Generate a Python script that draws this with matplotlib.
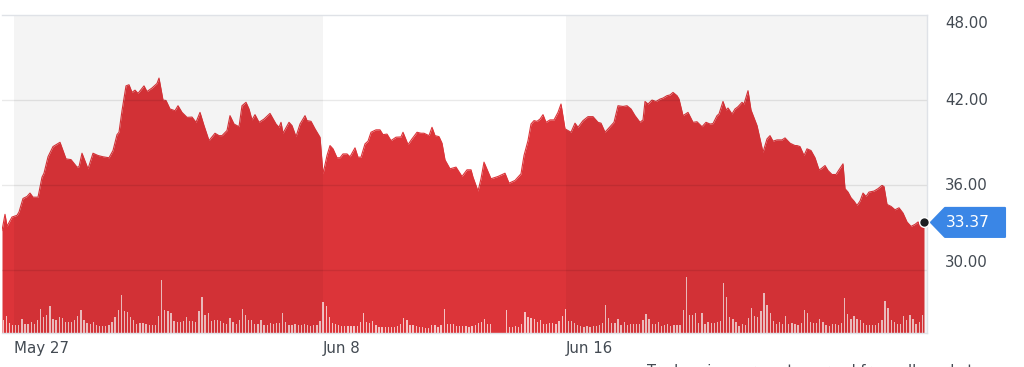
import numpy as np
import matplotlib
matplotlib.use("Agg")
import matplotlib.pyplot as plt
import matplotlib.transforms as mtransforms
from matplotlib.patches import Polygon

# ---------------- data ----------------
# intraday sample time (session minutes index) and price
t_price = [0, 3, 5, 10, 15, 17, 21, 25, 28, 31, 36, 40, 42, 46, 51, 58, 64, 69, 75, 77,
           80, 86, 91, 96, 101, 107, 111, 115, 117, 120, 124, 127, 130, 133, 136, 142, 145, 150, 155, 157,
           161, 164, 168, 173, 176, 180, 185, 190, 194, 198, 202, 207, 213, 217, 220, 225, 228, 232, 237, 240,
           244, 247, 250, 253, 257, 262, 268, 274, 277, 279, 281, 287, 290, 294, 298, 303, 305, 309, 313, 318,
           321, 325, 328, 331, 335, 338, 341, 345, 348, 353, 356, 359, 363, 366, 369, 374, 378, 381, 385, 389,
           394, 399, 401, 406, 410, 415, 419, 422, 427, 430, 433, 437, 440, 443, 448, 454, 460, 465, 469, 471,
           476, 479, 482, 489, 496, 503, 507, 513, 519, 522, 526, 529, 532, 535, 538, 541, 544, 548, 552, 556,
           559, 563, 569, 573, 576, 581, 586, 591, 596, 599, 603, 608, 612, 616, 621, 625, 629, 633, 638, 641,
           643, 646, 650, 654, 658, 661, 665, 668, 671, 675, 677, 681, 686, 691, 695, 700, 704, 708, 711, 715,
           717, 721, 724, 726, 730, 733, 736, 740, 742, 746, 749, 755, 758, 761, 765, 768, 771, 775, 780, 783,
           788, 793, 795, 798, 802, 805, 809, 813, 817, 819, 823, 826, 830, 834, 837, 841, 843, 846, 849, 852,
           855, 858, 861, 864, 867, 872, 876, 880, 882, 885, 889, 893, 897, 901, 905, 909, 913, 916, 918, 922]
price = [32.80, 33.94, 33.10, 33.75, 33.87, 34.10, 35.06, 35.20, 35.44, 35.15, 35.15, 36.56, 36.84, 38.00, 38.72, 39.02, 37.85, 37.80, 37.27, 37.30,
         38.25, 37.15, 38.25, 38.09, 38.00, 37.93, 38.44, 39.56, 39.73, 41.25, 43.00, 43.08, 42.54, 42.70, 42.47, 43.00, 42.60, 42.85, 43.17, 43.55,
         42.00, 41.97, 41.37, 41.25, 41.60, 41.13, 40.78, 40.80, 40.43, 41.13, 40.20, 39.14, 39.66, 39.49, 39.49, 39.85, 40.90, 40.31, 40.12, 41.60,
         41.84, 41.37, 40.60, 40.97, 40.43, 40.66, 41.06, 40.31, 40.08, 40.43, 39.66, 40.43, 40.20, 39.42, 40.31, 40.90, 40.55, 40.50, 39.97, 39.38,
         36.80, 38.09, 38.79, 38.56, 37.93, 37.93, 38.20, 38.20, 38.00, 38.63, 37.97, 37.97, 38.91, 39.10, 39.73, 39.90, 39.90, 39.56, 39.60, 39.14,
         39.38, 39.40, 39.73, 38.86, 39.26, 39.73, 39.66, 39.66, 39.49, 40.08, 39.49, 39.42, 38.96, 37.78, 37.15, 37.27, 36.61, 37.08, 37.08, 36.56,
         35.58, 36.45, 37.62, 36.45, 36.61, 36.84, 36.14, 36.33, 36.80, 38.09, 39.14, 40.31, 40.55, 40.50, 40.66, 40.97, 40.43, 40.60, 40.60, 41.13,
         41.72, 39.97, 39.73, 40.37, 40.08, 40.55, 40.83, 40.83, 40.43, 40.37, 39.73, 40.12, 40.43, 41.60, 41.55, 41.60, 41.37, 40.90, 40.43, 40.60,
         41.90, 41.72, 42.00, 41.90, 42.07, 42.14, 42.31, 42.36, 42.54, 42.31, 42.07, 40.90, 41.13, 40.43, 40.47, 40.12, 40.43, 40.31, 40.34, 40.90,
         41.02, 41.90, 41.30, 41.44, 41.02, 41.37, 41.53, 41.84, 41.72, 42.66, 41.30, 40.20, 39.26, 38.32, 39.26, 39.49, 39.10, 39.19, 39.19, 39.33,
         38.96, 38.79, 38.79, 38.72, 38.09, 38.56, 38.44, 37.93, 37.08, 37.15, 37.38, 37.03, 36.75, 36.75, 37.08, 37.50, 35.75, 35.51, 35.11, 34.87,
         34.57, 34.87, 35.44, 35.20, 35.51, 35.58, 35.75, 35.98, 35.90, 34.64, 34.50, 34.26, 34.40, 34.03, 33.40, 33.09, 33.23, 33.40, 33.28, 33.37]

# volume per interval (thousand shares), evenly spaced bars
volume_k = [127, 173, 100, 77, 83, 83, 140, 93, 93, 107, 93, 127, 240, 160, 183, 267, 143, 133, 160, 153,
            110, 110, 113, 127, 167, 233, 133, 100, 93, 107, 77, 73, 70, 70, 77, 110, 160, 227, 377, 217,
            210, 160, 127, 93, 103, 103, 93, 83, 83, 83, 167, 527, 233, 217, 203, 123, 110, 110, 117, 160,
            123, 123, 113, 220, 360, 177, 203, 123, 133, 133, 117, 97, 90, 150, 110, 93, 130, 240, 177, 133,
            130, 93, 90, 133, 77, 77, 100, 90, 97, 103, 197, 110, 83, 83, 90, 77, 83, 90, 77, 70,
            77, 83, 123, 310, 267, 160, 100, 93, 77, 70, 70, 67, 67, 73, 73, 107, 197, 113, 97, 117,
            77, 60, 60, 60, 60, 63, 63, 67, 90, 150, 127, 77, 77, 67, 60, 60, 53, 53, 80, 77,
            60, 83, 240, 93, 90, 90, 73, 73, 73, 67, 60, 67, 83, 100, 113, 143, 93, 93,
            0, 0, 0, 0,
            227, 63, 63, 70, 63, 90, 213, 157, 150, 140, 110, 127, 93, 93, 100, 100, 93, 117, 167, 243,
            117, 117, 103, 77, 67, 60, 70, 63, 70, 67, 77, 97, 277, 147, 100, 100, 143, 83, 110, 80,
            87, 90, 93, 93, 127, 193, 143, 93, 93, 107, 73, 80, 90, 73, 80, 80, 83, 230, 560, 180,
            180, 200, 100, 200, 93, 107, 100, 97, 110, 120, 500, 360, 160, 140, 107, 73, 93, 77, 150, 250,
            167, 160, 223, 400, 280, 200, 120, 93, 110, 93, 170, 93, 100, 90, 83, 100, 227, 203, 113, 100,
            100, 143, 110, 83, 73, 90, 90, 77, 100, 350, 193, 140, 167, 140, 127, 100, 83, 83, 77, 83,
            100, 127, 317, 250, 127, 107, 93, 93, 167, 127, 183, 143, 93, 110, 183]
vol_first_t, vol_last_t = 1.3, 920.3

# session shading (alternating days) and date labels
band_start = [12, 564]
band_end = [321, 925]
date_ticks = [12, 321, 564]
date_labels = ["May 27", "Jun 8", "Jun 16"]

y_ticks = [48, 42, 36, 30]
y_labels = ["48.00", "42.00", "36.00", "30.00"]
last_price = 33.37

# ---------------- drawing ----------------
W, H, DPI = 1024, 367, 100
fig = plt.figure(figsize=(W / DPI, H / DPI), dpi=DPI)
fig.patch.set_facecolor("white")
ax_l, ax_r, ax_t, ax_b = 2, 927, 15, 333
ax = fig.add_axes([ax_l / W, 1 - ax_b / H, (ax_r - ax_l) / W, (ax_b - ax_t) / H])
ax.set_facecolor("white")

XMAX = 925
YMIN, YMAX = 25.57, 48.0
VOL_AXIS_MAX = 3180.0

red = "#dc3439"
ax.fill_between(t_price, price, YMIN, color=red, lw=0, zorder=2)
ax.plot(t_price, price, color=red, lw=0.8, zorder=2.1)

# volume bars (bottom portion of the panel)
n_vol = len(volume_k)
t_vol = np.linspace(vol_first_t, vol_last_t, n_vol)
trans_vol = mtransforms.blended_transform_factory(ax.transData, ax.transAxes)
ax.bar(t_vol, np.array(volume_k) / VOL_AXIS_MAX, width=1.3, bottom=0,
       color="white", alpha=0.7, lw=0, zorder=3, transform=trans_vol)

# day shading overlay
for s, e in zip(band_start, band_end):
    ax.axvspan(s, e, color="black", alpha=0.045, lw=0, zorder=4)

# gridlines
for v in y_ticks[1:]:
    ax.axhline(v, color="black", alpha=0.085, lw=1.0, zorder=5)

ax.set_xlim(0, XMAX)
ax.set_ylim(YMIN, YMAX)

ax.spines["left"].set_visible(False)
for side in ["top", "bottom", "right"]:
    ax.spines[side].set_color("#dfe2e7")
    ax.spines[side].set_linewidth(1.0)
    ax.spines[side].set_zorder(6)

label_color = "#434a52"
fs = 10.8
ax.set_xticks(date_ticks)
ax.set_xticklabels(date_labels)
ax.tick_params(axis="x", length=0, pad=5.5, labelsize=fs, labelcolor=label_color)
for lbl in ax.get_xticklabels():
    lbl.set_horizontalalignment("left")

# right axis labels (outer labels pulled inside as in the reference)
ax.set_yticks([])
label_shift_px = [-9, 0, 0, 8]
for v, lab, dy in zip(y_ticks, y_labels, label_shift_px):
    tr = mtransforms.blended_transform_factory(ax.transAxes, ax.transData) + \
        mtransforms.ScaledTranslation(0, dy / DPI, fig.dpi_scale_trans)
    ax.text(1 + 18 / (ax_r - ax_l), v, lab, transform=tr, ha="left", va="center",
            fontsize=fs, color=label_color, clip_on=False)

# last price marker
ax.plot([t_price[-1]], [price[-1]], marker="o", ms=7, color="#1d1f22",
        mec="white", mew=1.0, zorder=8, clip_on=False)

# price badge (blue tag pointing at the marker)
disp = ax.transData.transform((t_price[-1], last_price))
xp, yp = disp
tip_x = xp + 7
body_x0 = tip_x + 14
body_x1 = body_x0 + 60
half_h = 14.5
poly = Polygon([[tip_x, yp], [body_x0, yp + half_h], [body_x1, yp + half_h],
                [body_x1, yp - half_h], [body_x0, yp - half_h]],
               closed=True, transform=None, facecolor="#3a86e6", edgecolor="#3a86e6",
               lw=1.5, joinstyle="round", zorder=9)
fig.patches.append(poly)
poly.set_figure(fig)
fig.text((body_x0 + 1) / W, yp / H, f"{last_price:.2f}", ha="left", va="center",
         fontsize=11.2, color="white", zorder=10)

# footnote (cut off at the bottom edge, as in the reference)
fig.text(647 / W, 1 - 364 / H, "Trade prices are not sourced from all markets",
         ha="left", va="top", fontsize=10.5, color=label_color)

fig.savefig("out.png", dpi=DPI, facecolor="white")
